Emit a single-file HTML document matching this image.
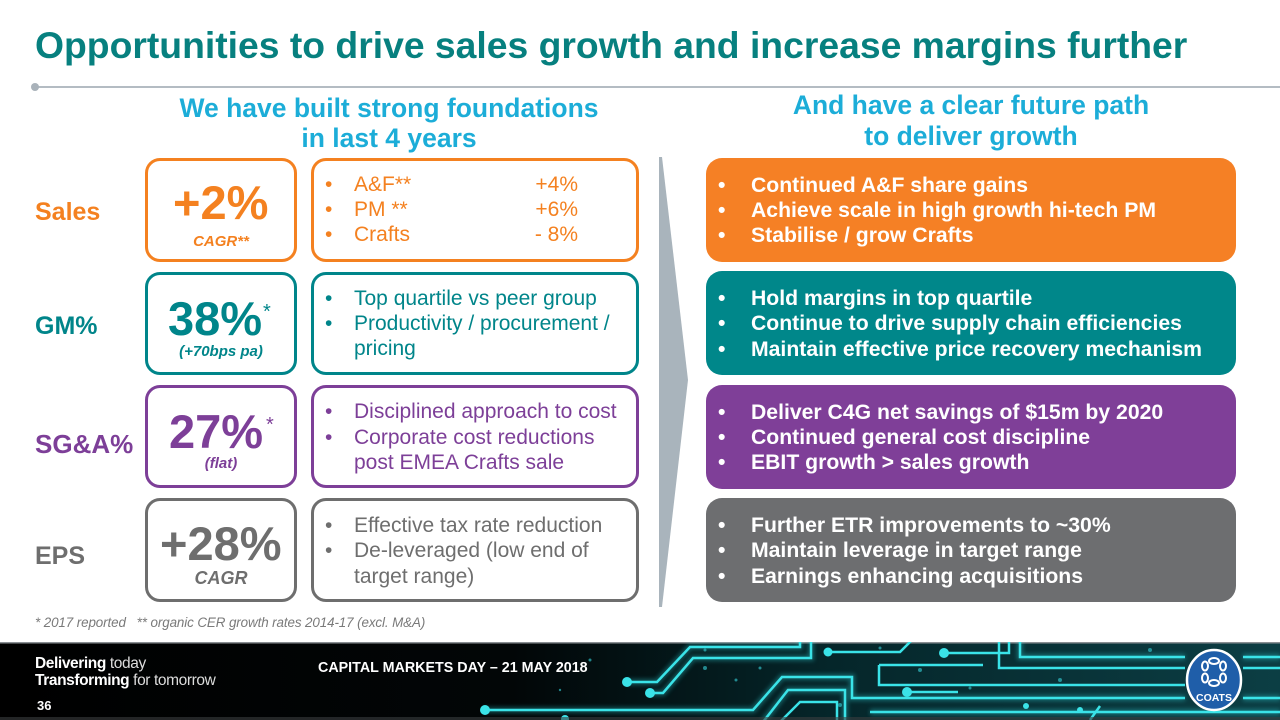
<!DOCTYPE html>
<html>
<head>
<meta charset="utf-8">
<style>
  html,body{margin:0;padding:0;}
  body{width:1280px;height:720px;position:relative;overflow:hidden;background:#fff;font-family:"Liberation Sans",Arial,sans-serif;}
  .a{position:absolute;white-space:nowrap;}
  .title{left:35px;top:25px;height:40px;line-height:40px;font-size:37.3px;font-weight:bold;color:#07807f;}
  .hdr{font-size:26.5px;font-weight:bold;color:#1cadd8;text-align:center;height:30px;line-height:30px;}
  .lab{font-size:25px;font-weight:bold;height:30px;line-height:30px;left:35px;}
  .box{position:absolute;box-sizing:border-box;border:3px solid;border-radius:15px;background:#fff;}
  .fill{position:absolute;border-radius:16px;}
  .big{font-size:47px;font-weight:bold;height:50px;line-height:50px;}
  .sub{font-style:italic;font-weight:bold;text-align:center;width:152px;left:145px;}
  .ln{font-size:21px;height:24px;line-height:24px;}
  .bl{font-size:21px;height:24px;line-height:24px;}
  .rt{font-size:21.2px;font-weight:bold;color:#fff;height:24px;line-height:24px;}
  .org{color:#f48120;} .tea{color:#00858a;} .pur{color:#7d3f98;} .gry{color:#6e6e6e;}
</style>
</head>
<body>

<div class="a title">Opportunities to drive sales growth and increase margins further</div>

<!-- separator -->
<div class="a" style="left:35px;top:86px;width:1245px;height:2px;background:#b4bcc3;"></div>
<div class="a" style="left:31px;top:83px;width:8px;height:8px;border-radius:50%;background:#a9b2ba;"></div>

<!-- headers -->
<div class="a hdr" style="left:140px;width:498px;top:93px;">We have built strong foundations</div>
<div class="a hdr" style="left:140px;width:498px;top:123px;">in last 4 years</div>
<div class="a hdr" style="left:706px;width:530px;top:90px;">And have a clear future path</div>
<div class="a hdr" style="left:706px;width:530px;top:121px;">to deliver growth</div>

<!-- row labels -->
<div class="a lab org" style="top:197px;">Sales</div>
<div class="a lab tea" style="top:311px;">GM%</div>
<div class="a lab pur" style="top:429px;font-size:26px;">SG&amp;A%</div>
<div class="a lab gry" style="top:541px;">EPS</div>

<!-- KPI boxes -->
<div class="box" style="left:145px;top:158px;width:152px;height:104px;border-color:#f48120;"></div>
<div class="box" style="left:145px;top:272px;width:152px;height:103px;border-color:#00858a;"></div>
<div class="box" style="left:145px;top:385px;width:152px;height:103px;border-color:#7d3f98;"></div>
<div class="box" style="left:145px;top:498px;width:152px;height:104px;border-color:#6e6e6e;"></div>

<!-- middle boxes -->
<div class="box" style="left:311px;top:158px;width:328px;height:104px;border-color:#f48120;"></div>
<div class="box" style="left:311px;top:272px;width:328px;height:103px;border-color:#00858a;"></div>
<div class="box" style="left:311px;top:385px;width:328px;height:103px;border-color:#7d3f98;"></div>
<div class="box" style="left:311px;top:498px;width:328px;height:104px;border-color:#6e6e6e;"></div>

<!-- arrow -->
<svg class="a" style="left:0;top:0;" width="1280" height="720">
  <polygon points="659,157 662,157 688,380 662,607 659,607" fill="#a9b4bc"/>
</svg>

<!-- right filled boxes -->
<div class="fill" style="left:706px;top:158px;width:530px;height:104px;background:#f58025;"></div>
<div class="fill" style="left:706px;top:271px;width:530px;height:104px;background:#00878a;"></div>
<div class="fill" style="left:706px;top:385px;width:530px;height:104px;background:#7f3f98;"></div>
<div class="fill" style="left:706px;top:498px;width:530px;height:104px;background:#6d6e70;"></div>

<!-- KPI values -->
<div class="a big org" style="left:173px;top:178px;">+2%</div>
<div class="a sub org" style="top:233px;height:18px;line-height:18px;font-size:15px;">CAGR**</div>

<div class="a big tea" style="left:168px;top:294px;">38%</div>
<div class="a tea" style="left:263px;top:302px;font-size:20px;line-height:20px;">*</div>
<div class="a sub tea" style="top:343px;height:18px;line-height:18px;font-size:15px;">(+70bps pa)</div>

<div class="a big pur" style="left:169px;top:407px;">27%</div>
<div class="a pur" style="left:266px;top:415px;font-size:20px;line-height:20px;">*</div>
<div class="a sub pur" style="top:455px;height:18px;line-height:18px;font-size:15px;">(flat)</div>

<div class="a big gry" style="left:160px;top:519px;">+28%</div>
<div class="a sub gry" style="top:567px;height:22px;line-height:22px;font-size:18px;">CAGR</div>

<!-- middle texts row 1 -->
<div class="a bl org" style="left:325px;top:173px;">•</div>
<div class="a ln org" style="left:354px;top:173px;">A&amp;F**</div>
<div class="a ln org" style="left:478px;width:100px;text-align:right;top:173px;">+4%</div>
<div class="a bl org" style="left:325px;top:198px;">•</div>
<div class="a ln org" style="left:354px;top:198px;">PM **</div>
<div class="a ln org" style="left:478px;width:100px;text-align:right;top:198px;">+6%</div>
<div class="a bl org" style="left:325px;top:223px;">•</div>
<div class="a ln org" style="left:354px;top:223px;">Crafts</div>
<div class="a ln org" style="left:478px;width:100px;text-align:right;top:223px;">- 8%</div>

<!-- row 2 -->
<div class="a bl tea" style="left:325px;top:287px;">•</div>
<div class="a ln tea" style="left:354px;top:287px;">Top quartile vs peer group</div>
<div class="a bl tea" style="left:325px;top:312px;">•</div>
<div class="a ln tea" style="left:354px;top:312px;">Productivity / procurement /</div>
<div class="a ln tea" style="left:354px;top:337px;">pricing</div>

<!-- row 3 -->
<div class="a bl pur" style="left:325px;top:400px;">•</div>
<div class="a ln pur" style="left:354px;top:400px;">Disciplined approach to cost</div>
<div class="a bl pur" style="left:325px;top:426px;">•</div>
<div class="a ln pur" style="left:354px;top:426px;">Corporate cost reductions</div>
<div class="a ln pur" style="left:354px;top:451px;">post EMEA Crafts sale</div>

<!-- row 4 -->
<div class="a bl gry" style="left:325px;top:514px;">•</div>
<div class="a ln gry" style="left:354px;top:514px;">Effective tax rate reduction</div>
<div class="a bl gry" style="left:325px;top:539px;">•</div>
<div class="a ln gry" style="left:354px;top:539px;">De-leveraged (low end of</div>
<div class="a ln gry" style="left:354px;top:565px;">target range)</div>

<!-- right texts -->
<div class="a rt" style="left:718px;top:174px;">•</div>
<div class="a rt" style="left:751px;top:174px;">Continued A&amp;F share gains</div>
<div class="a rt" style="left:718px;top:199px;">•</div>
<div class="a rt" style="left:751px;top:199px;">Achieve scale in high growth hi-tech PM</div>
<div class="a rt" style="left:718px;top:224px;">•</div>
<div class="a rt" style="left:751px;top:224px;">Stabilise / grow Crafts</div>

<div class="a rt" style="left:718px;top:287px;">•</div>
<div class="a rt" style="left:751px;top:287px;">Hold margins in top quartile</div>
<div class="a rt" style="left:718px;top:312px;">•</div>
<div class="a rt" style="left:751px;top:312px;">Continue to drive supply chain efficiencies</div>
<div class="a rt" style="left:718px;top:338px;">•</div>
<div class="a rt" style="left:751px;top:338px;">Maintain effective price recovery mechanism</div>

<div class="a rt" style="left:718px;top:401px;">•</div>
<div class="a rt" style="left:751px;top:401px;">Deliver C4G net savings of $15m by 2020</div>
<div class="a rt" style="left:718px;top:426px;">•</div>
<div class="a rt" style="left:751px;top:426px;">Continued general cost discipline</div>
<div class="a rt" style="left:718px;top:451px;">•</div>
<div class="a rt" style="left:751px;top:451px;">EBIT growth &gt; sales growth</div>

<div class="a rt" style="left:718px;top:514px;">•</div>
<div class="a rt" style="left:751px;top:514px;">Further ETR improvements to ~30%</div>
<div class="a rt" style="left:718px;top:539px;">•</div>
<div class="a rt" style="left:751px;top:539px;">Maintain leverage in target range</div>
<div class="a rt" style="left:718px;top:565px;">•</div>
<div class="a rt" style="left:751px;top:565px;">Earnings enhancing acquisitions</div>

<!-- footnote -->
<div class="a" style="left:35px;top:615px;height:16px;line-height:16px;font-size:13.4px;font-style:italic;color:#7a7a7a;letter-spacing:-0.1px;">* 2017 reported &nbsp;&nbsp;** organic CER growth rates 2014-17 (excl. M&amp;A)</div>

<!-- footer band -->
<svg class="a" style="left:0;top:642px;" width="1280" height="78" viewBox="0 642 1280 78">
  <defs>
    <linearGradient id="bg" x1="0" y1="0" x2="1" y2="0">
      <stop offset="0" stop-color="#000"/>
      <stop offset="0.4" stop-color="#020607"/>
      <stop offset="0.65" stop-color="#05262a"/>
      <stop offset="1" stop-color="#0c3e44"/>
    </linearGradient>
    <filter id="gl" x="-10%" y="-50%" width="120%" height="200%"><feGaussianBlur stdDeviation="2"/></filter>
  </defs>
  <rect x="0" y="642" width="1280" height="78" fill="url(#bg)"/>
  <rect x="0" y="642" width="1280" height="1.5" fill="#8a8f93"/>
  <g fill="none" stroke="#2fd6dc" stroke-width="6" opacity="0.35" filter="url(#gl)">
    <path d="M485,710 H753 L782,677 H852 V698 H1185 M1243,698 H1280"/>
    <path d="M627,682 H657 L690,647 H800 V640"/>
    <path d="M650,693 H663 L693,658 H811 V640"/>
    <path d="M763,722 L788,690 H845 V722"/>
    <path d="M1020,640 V657 H1185 M1243,657 H1280"/>
    <path d="M870,712 H1280"/>
  </g>
  <g fill="none" stroke="#3ae3e8" stroke-width="2.5">
    <path d="M485,710 H753 L782,677 H852 V698 H1185 M1243,698 H1280"/>
    <path d="M627,682 H657 L690,647 H800 V640"/>
    <path d="M650,693 H663 L693,658 H811 V640"/>
    <path d="M763,722 L788,690 H845 V722"/>
    <path d="M780,722 L800,702 H837 V722"/>
    <path d="M828,652 H900 L912,640"/>
    <path d="M944,653 H1009 V640"/>
    <path d="M1020,640 V657 H1185 M1243,657 H1280"/>
    <path d="M999,640 V668 H1185 M1243,668 H1280"/>
    <path d="M879,665 H983 M879,665 V685 H1185"/>
    <path d="M907,692 H958"/>
    <path d="M870,712 H1280"/>
    <path d="M1090,720 L1100,706"/>
  </g>
  <g fill="#3ae3e8">
    <circle cx="485" cy="710" r="5"/>
    <circle cx="627" cy="682" r="5"/>
    <circle cx="650" cy="693" r="5"/>
    <circle cx="828" cy="652" r="4.5"/>
    <circle cx="944" cy="653" r="5"/>
    <circle cx="907" cy="692" r="5"/>
    <circle cx="565" cy="719" r="4"/>
    <circle cx="1026" cy="706" r="3"/>
    <circle cx="1080" cy="710" r="3"/>
  </g>
  <g fill="#2fb8c0" opacity="0.7">
    <circle cx="590" cy="660" r="1.5"/><circle cx="705" cy="668" r="2"/><circle cx="736" cy="680" r="1.5"/>
    <circle cx="760" cy="668" r="1.5"/><circle cx="840" cy="705" r="2"/><circle cx="920" cy="670" r="2"/>
    <circle cx="970" cy="688" r="1.5"/><circle cx="1060" cy="680" r="2"/><circle cx="1150" cy="650" r="2"/>
    <circle cx="705" cy="650" r="1.5"/><circle cx="560" cy="690" r="1.2"/><circle cx="880" cy="648" r="1.5"/>
  </g>
  <rect x="0" y="717" width="1280" height="3" fill="#3a3d40" opacity="0.6"/>
</svg>

<!-- footer text -->
<div class="a" style="left:35px;top:655px;height:17px;line-height:17px;font-size:15.5px;color:#fff;letter-spacing:-0.4px;"><b>Delivering</b> <span style="color:#ddd;">today</span></div>
<div class="a" style="left:35px;top:672px;height:17px;line-height:17px;font-size:15.5px;color:#fff;letter-spacing:-0.4px;"><b>Transforming</b> <span style="color:#ddd;">for tomorrow</span></div>
<div class="a" style="left:37px;top:698px;height:16px;line-height:16px;font-size:13px;font-weight:bold;color:#fff;">36</div>
<div class="a" style="left:318px;top:660px;height:17px;line-height:17px;font-size:14.3px;font-weight:bold;color:#fff;">CAPITAL MARKETS DAY – 21 MAY 2018</div>

<!-- COATS logo -->
<svg class="a" style="left:1184px;top:648px;" width="60" height="64">
  <ellipse cx="30" cy="32" rx="27" ry="30" fill="#1f5ea9" stroke="#fff" stroke-width="2.5"/>
  <g fill="none" stroke="#fff" stroke-width="2">
    <ellipse cx="30" cy="13" rx="5" ry="3"/>
    <ellipse cx="21" cy="18" rx="3" ry="4.5"/>
    <ellipse cx="39" cy="18" rx="3" ry="4.5"/>
    <ellipse cx="21" cy="30" rx="3" ry="4.5"/>
    <ellipse cx="39" cy="30" rx="3" ry="4.5"/>
    <ellipse cx="30" cy="35" rx="5" ry="3"/>
  </g>
  <text x="30" y="53" text-anchor="middle" font-family="Liberation Sans, Arial, sans-serif" font-size="10.5" font-weight="bold" fill="#fff">COATS</text>
</svg>

</body>
</html>
